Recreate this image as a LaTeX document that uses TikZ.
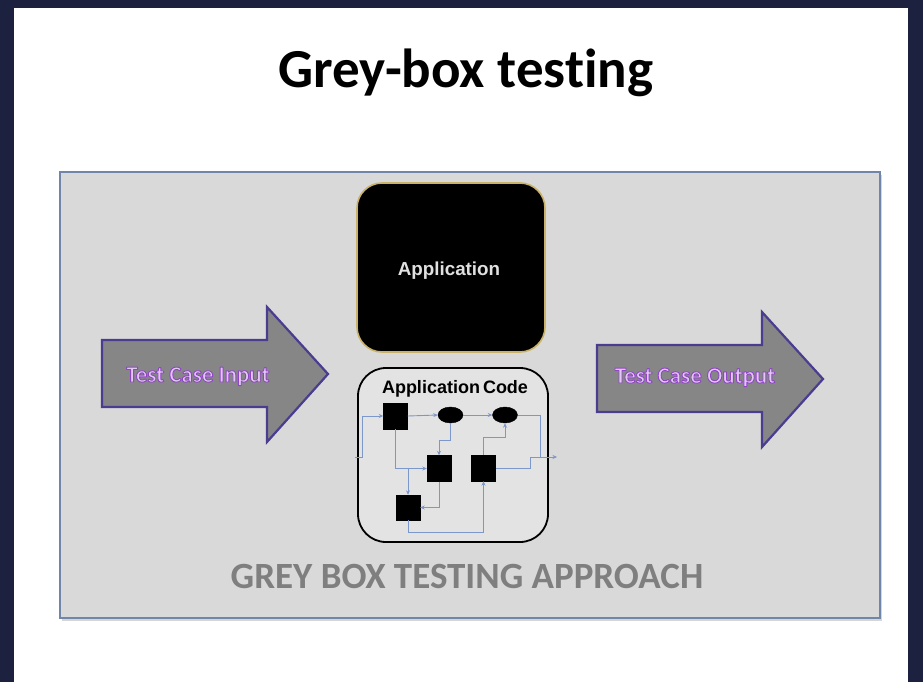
\documentclass[tikz,border=0pt]{standalone}
\usepackage{fontspec}
\setmainfont{Carlito}[Ligatures={NoCommon}]
\newfontfamily\arialfont{Liberation Sans}
\usetikzlibrary{shapes.geometric,arrows.meta}

\definecolor{navy}{HTML}{1C2140}
\definecolor{panelfill}{HTML}{D9D9D9}
\definecolor{panelline}{HTML}{6F86A8}
\definecolor{goldline}{HTML}{C9B26A}
\definecolor{arrowfill}{HTML}{868686}
\definecolor{arrowline}{HTML}{4A3C8E}
\definecolor{lavender}{HTML}{E2C6F4}
\definecolor{flowblue}{HTML}{7C97C9}
\definecolor{captiongrey}{HTML}{7F7F7F}

% light text with a purple outline (fill, then stroke the glyphs)
\newcommand\haloed[1]{%
  \special{pdf:literal direct 0.56 0.27 0.77 RG 0.9 w 1 j 2 Tr}#1\special{pdf:literal direct 0 Tr}}

\begin{document}
\begin{tikzpicture}[x=1pt,y=-1pt,
  blk/.style={fill=black,draw=black,minimum width=24pt,minimum height=26pt,inner sep=0pt},
  oval/.style={ellipse,fill=black,draw=black,minimum width=25pt,minimum height=16pt,inner sep=0pt},
  conn/.style={draw=flowblue,line width=0.9pt,-{Stealth[length=4.5pt,width=4pt]}},
  plain/.style={draw=flowblue,line width=0.9pt},
  bigarrow/.style={fill=arrowfill,draw=arrowline,line width=2.2pt,line join=miter},
  label/.style={text=lavender,font=\bfseries\fontsize{22.9}{26}\selectfont,anchor=base},
]
\useasboundingbox (0,0) rectangle (923,682);

% slide backdrop
\fill[navy] (0,0) rectangle (923,682);
\fill[white] (14,8) rectangle (908,682);

% title
\node[anchor=base,font=\bfseries\fontsize{55}{60}\selectfont] (title) at (466,88) {Grey-box testing};

% grey panel
\fill[black!16] (62,175) rectangle (882,621);
\node[fill=panelfill,draw=panelline,line width=1.8pt,minimum width=820pt,minimum height=446pt,inner sep=0pt] (panel) at (470,395) {};

% application box
\node[fill=black,draw=goldline,line width=1.6pt,rounded corners=25pt,minimum width=188pt,minimum height=169pt,inner sep=0pt] (app) at (451,267.5) {};
\node[anchor=base,text=white!88!black,font=\arialfont\bfseries\fontsize{18.8}{22}\selectfont] (apptext) at (449,275) {Application};

% application code box
\node[fill=black!11,draw=black,line width=1.8pt,rounded corners=28pt,minimum width=190pt,minimum height=174pt,inner sep=0pt] (code) at (453,455) {};
\node[anchor=base,font=\arialfont\bfseries\fontsize{18}{21}\selectfont] (codetext) at (455,393) {Application\hspace{3pt}Code};

% flow elements
\node[blk] (s1) at (395.5,416) {};
\node[oval] (e1) at (450.5,415) {};
\node[oval] (e2) at (505,415) {};
\node[blk] (s2) at (439,468.5) {};
\node[blk] (s3) at (483.5,468) {};
\node[blk,minimum height=25pt] (s4) at (408,507.5) {};

\coordinate (inL) at (355,457);
\coordinate (inJ) at (362,457);
\coordinate (outJ) at (540,457);
\coordinate (outK) at (530,457);
\coordinate (outR) at (557,457);

\draw[conn] (inL) -- (inJ) |- (s1.west);
\draw[conn] (s1.east) -- (e1.west);
\draw[conn] (e1.east) -- (e2.west);
\draw[conn] (e1.south) -- ++(0,17) -| (s2.north);
\draw[conn] (s1.south) |- (s2.west);
\draw[conn] (s4.north |- s2.west) -- (s4.north);
\draw[conn] (s2.south) |- (s4.east);
\draw[conn] (s4.south) -- ++(0,12) -| (s3.south);
\draw[conn] (s3.north) -- ++(0,-17) -| (e2.south);
\draw[plain] (e2.east) -| (outJ);
\draw[plain] (s3.east) -| (outK);
\draw[conn] (outK) -- (outR);

% input arrow
\draw[bigarrow] (102,340) -- (267,340) -- (267,307) -- (328,374) -- (267,442) -- (267,407) -- (102,407) -- cycle;
% output arrow
\draw[bigarrow] (597,345) -- (762,345) -- (762,312) -- (823,379) -- (762,447) -- (762,412) -- (597,412) -- cycle;

% arrow labels
\node[label] (intext) at (198,382) {\haloed{Test Case Input}};
\node[label] (outtext) at (695,383) {\haloed{Test Case Output}};

% caption
\node[anchor=base,text=captiongrey,font=\bfseries\fontsize{37}{42}\selectfont] (caption) at (467,588) {GREY BOX TESTING APPROACH};
\end{tikzpicture}
\end{document}
